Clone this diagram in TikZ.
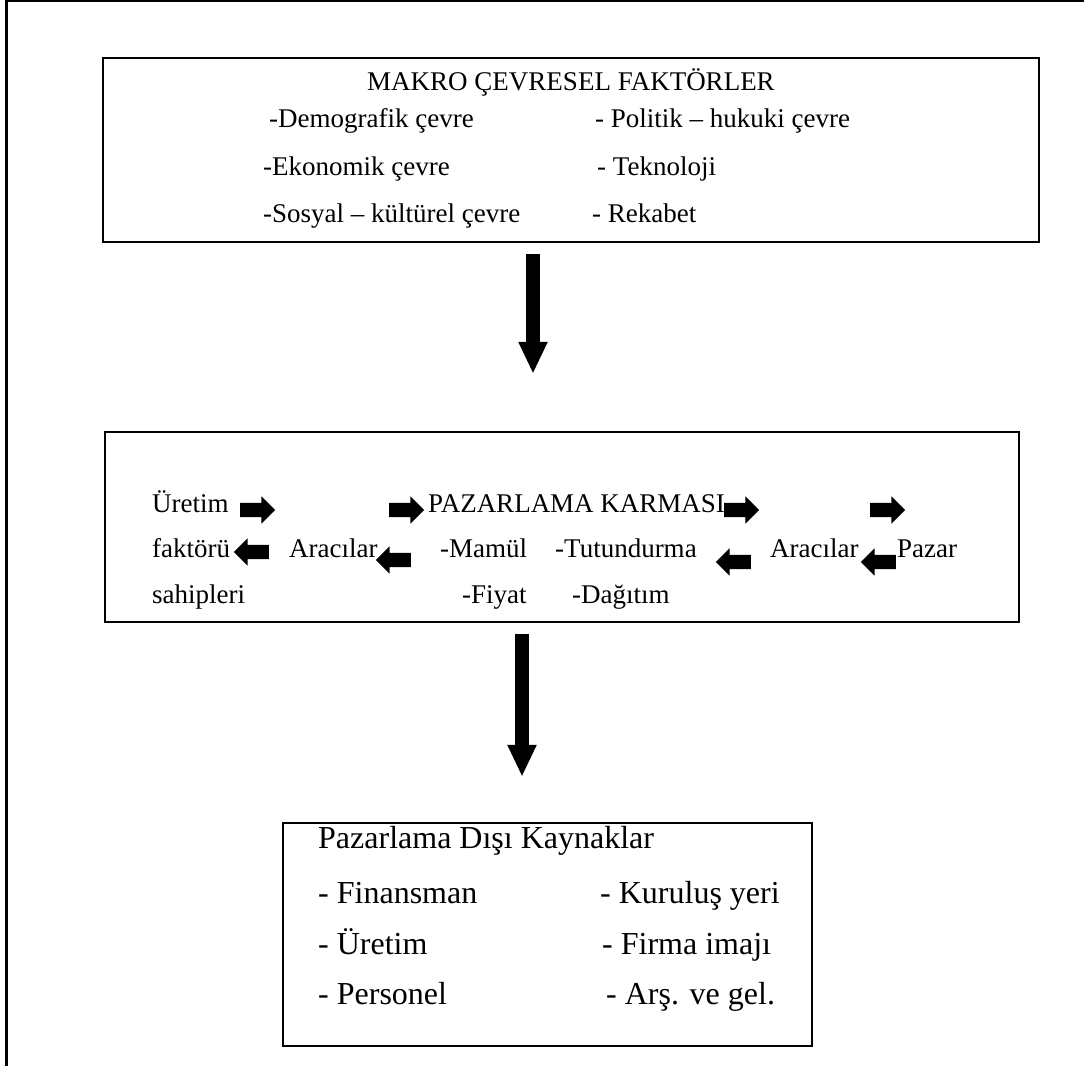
\documentclass[tikz,border=0pt]{standalone}
\usepackage{fontspec}
\setmainfont{Liberation Serif}
\usetikzlibrary{arrows.meta,calc,shapes.arrows}
\tikzset{
  box/.style={draw,line width=2.4pt,inner sep=0pt},
  txt/.style={anchor=base west,inner sep=0pt,font=\fontsize{27}{32}\selectfont},
  bigtxt/.style={anchor=base west,inner sep=0pt,font=\fontsize{32}{38}\selectfont},
  rarrow/.style={single arrow,fill=black,inner xsep=0pt,inner ysep=7pt,
                 minimum height=35pt,single arrow head extend=6.5pt},
  larrow/.style={rarrow,shape border rotate=180},
  downflow/.style={line width=14pt,-{Triangle[length=32pt,width=27pt]}}
}
\begin{document}
\begin{tikzpicture}[x=1pt,y=-1pt]
  \useasboundingbox (0,0) rectangle (1084,1066);
  \draw[line width=2.4pt] (6.5,1066) -- (6.5,1.2) -- (1084,1.2);

  % boxes
  \node[box,minimum width=936pt,minimum height=184pt] (makro) at (571,150) {};
  \node[box,minimum width=914pt,minimum height=190pt] (karma) at (562,527) {};
  \node[box,minimum width=529pt,minimum height=223pt] (kaynak) at (547.5,934.5) {};

  % macro factors
  \node[txt,anchor=base] (mtitle) at (571,90) {MAKRO ÇEVRESEL FAKTÖRLER};
  \node[txt] (demo) at (269,127) {-Demografik çevre};
  \node[txt] (eko) at (263,175) {-Ekonomik çevre};
  \node[txt] (sos) at (263,222) {-Sosyal – kültürel çevre};
  \node[txt] (pol) at (595,127) {- Politik – hukuki çevre};
  \node[txt] (tek) at (597,175) {- Teknoloji};
  \node[txt] (rek) at (592,222) {- Rekabet};

  % marketing mix
  \node[txt] (uret) at (152,512) {Üretim};
  \node[txt] (fakt) at (152,557) {faktörü};
  \node[txt] (sahip) at (152,603) {sahipleri};
  \node[txt] (araL) at (289,557) {Aracılar};
  \node[txt] (ktitle) at (428,512) {PAZARLAMA KARMASI};
  \node[txt] (mamul) at (440,557) {-Mamül};
  \node[txt] (fiyat) at (462,603) {-Fiyat};
  \node[txt] (tutun) at (555,557) {-Tutundurma};
  \node[txt] (dagit) at (572,603) {-Dağıtım};
  \node[txt] (araR) at (770,557) {Aracılar};
  \node[txt] (pazar) at (897,557) {Pazar};

  \foreach \x/\n in {254/r1,403/r2,738/r3,884/r4}
    \node[rarrow] (\n) at (\x,510) {};
  \foreach \x/\y/\n in {255/552/l1,397/560/l2,737/562/l3,882/562/l4}
    \node[larrow] (\n) at (\x,\y) {};

  % non-marketing resources
  \node[bigtxt] (ktitle2) at (318,848) {Pazarlama Dışı Kaynaklar};
  \node[bigtxt] (fin) at (318,903) {- Finansman};
  \node[bigtxt] (ure) at (318,954) {- Üretim};
  \node[bigtxt] (per) at (318,1004) {- Personel};
  \node[bigtxt] (kur) at (600,903) {- Kuruluş yeri};
  \node[bigtxt] (fir) at (602,954) {- Firma imajı};
  \node[bigtxt] (ars) at (606,1004) {- Arş. ve gel.};

  \draw[downflow] ($(makro.south)+(-38,11)$) -- ($(karma.north)+(-29,-57)$);
  \draw[downflow] ($(karma.south)+(-40,11)$) -- ($(kaynak.north)+(-25.5,-45)$);
\end{tikzpicture}
\end{document}
